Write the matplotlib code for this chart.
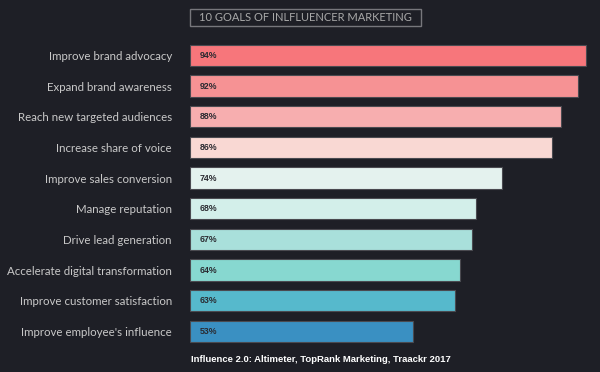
import matplotlib.pyplot as plt
from matplotlib.patches import Rectangle

# Data
goals = ["Improve brand advocacy", "Expand brand awareness", "Reach new targeted audiences",
         "Increase share of voice", "Improve sales conversion", "Manage reputation",
         "Drive lead generation", "Accelerate digital transformation",
         "Improve customer satisfaction", "Improve employee's influence"]
values = [94, 92, 88, 86, 74, 68, 67, 64, 63, 53]
colors = ["#f7767b", "#f69294", "#f7aeaf", "#f9d8d3", "#e4f2ee",
          "#d3efea", "#a9e0db", "#87d8d0", "#56b9cc", "#3a90c2"]

bg = "#1e1f26"
W, H = 600, 372

fig = plt.figure(figsize=(6, 3.72), dpi=100, facecolor=bg)
ax = fig.add_axes([190 / W, 1 - 346.7 / H, 410 / W, (346.7 - 40) / H])
ax.set_facecolor(bg)

ypos = list(range(len(goals)))
ax.barh(ypos, values, height=0.69, color=colors, edgecolor="#4a4a50", linewidth=0.8)
ax.set_xlim(0, 410 / 4.213)
ax.set_ylim(9.5, -0.5)
for s in ax.spines.values():
    s.set_visible(False)
ax.set_xticks([])
ax.set_yticks(ypos)
ax.set_yticklabels(goals, fontsize=8.3, color="#c9c9c9", fontfamily="Lato")
ax.tick_params(axis="y", length=0, pad=13)

for y, v in zip(ypos, values):
    ax.text(2.4, y, f"{v}%", va="center", ha="left", fontsize=6.3,
            fontweight="bold", color="#2a2a30", fontfamily="Liberation Sans")

# title box
fig.text(305 / W, 1 - 17.5 / H, "10 GOALS OF INLFLUENCER MARKETING", ha="center", va="center",
         fontsize=8, color="#a8a8a8", fontfamily="Lato")
fig.patches.append(Rectangle((190 / W, 1 - 26 / H), 231 / W, 17 / H, transform=fig.transFigure,
                             fill=False, edgecolor="#77777c", linewidth=1))

fig.text(191 / W, 1 - 360 / H, "Influence 2.0: Altimeter, TopRank Marketing, Traackr 2017",
         ha="left", va="center", fontsize=6.8, fontweight="bold", color="white",
         fontfamily="Liberation Sans")

fig.savefig("out.png", dpi=100, facecolor=bg)
